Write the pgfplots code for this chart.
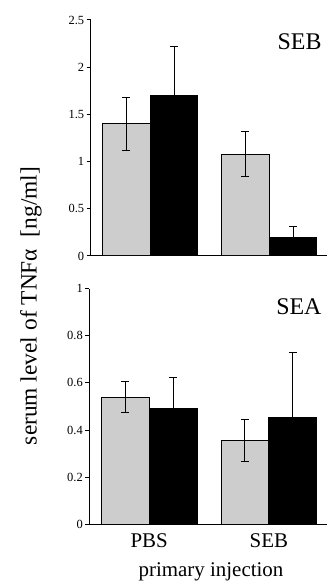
\documentclass[border=0pt]{standalone}
\usepackage{pgfplots}
\pgfplotsset{compat=1.18}
\usetikzlibrary{patterns.meta}
\usepackage{fontspec}
\setmainfont{Liberation Serif}
\tikzdeclarepattern{
  name=stip,
  type=uncolored,
  bottom left={(0,0)}, top right={(2.4bp,2.4bp)},
  tile size={(2.4bp,2.4bp)},
  code={\pgfpathcircle{\pgfpoint{1.2bp}{1.2bp}}{0.72bp}\pgfusepath{fill}}
}
\begin{document}
\begin{tikzpicture}[x=1bp,y=1bp]
\pgfplotsset{
  panel/.style={
    scale only axis, anchor=south west,
    axis x line=bottom, axis y line=left,
    axis line style={-, line width=1bp, black},
    xmin=-0.5, xmax=1.485, ymin=0,
    ybar, bar width=0.4,
    tick align=outside, major tick length=4bp,
    ytick style={line width=1bp, black},
    xtick style={draw=none},
    yticklabel style={font=\fontsize{12.5}{13}\selectfont, xshift=1bp},
    /pgf/number format/assume math mode=true,
    /pgf/number format/fixed,
    /pgf/number format/precision=1,
  },
  dotbar/.style={bar shift=-0.2, pattern=stip, pattern color=black!85, draw=black, line width=0.9bp,
    error bars/.cd, y dir=both, y explicit,
    error bar style={line width=1bp, black},
    error mark options={black, rotate=90, mark size=4bp, line width=1bp}},
  blkbar/.style={bar shift=0.2, fill=black, draw=black, line width=0.9bp,
    error bars/.cd, y dir=plus, y explicit,
    error bar style={line width=1bp, black},
    error mark options={black, rotate=90, mark size=4bp, line width=1bp}},
}
% top panel: SEB
\begin{axis}[panel, at={(90.7bp,327bp)}, width=236.3bp, height=236bp,
  ymax=2.5, ytick={0,0.5,1,1.5,2,2.5}, xtick=\empty]
\addplot[dotbar] coordinates {(0,1.40) +- (0,0.28) (1,1.08) +- (0,0.24)};
\addplot[blkbar] coordinates {(0,1.70) +- (0,0.52) (1,0.20) +- (0,0.11)};
\end{axis}
% bottom panel: SEA
\begin{axis}[panel, at={(89.3bp,58.7bp)}, width=237.7bp, height=235.6bp,
  ymax=1, ytick={0,0.2,0.4,0.6,0.8,1}, xtick={0,1}, xticklabels={PBS,SEB},
  xticklabel style={font=\fontsize{21}{24}\selectfont, yshift=-2bp}]
\addplot[dotbar] coordinates {(0,0.54) +- (0,0.067) (1,0.355) +- (0,0.09)};
\addplot[blkbar] coordinates {(0,0.49) +- (0,0.135) (1,0.455) +- (0,0.275)};
\end{axis}
\node[anchor=base east, font=\fontsize{24}{28}\selectfont] at (325,533) {SEB};
\node[anchor=base east, font=\fontsize{24}{28}\selectfont] at (325,268) {SEA};
\node[rotate=90, font=\fontsize{23.5}{26}\selectfont] at (31,277) {serum level of TNFα\ \ [ng/ml]};
\node[anchor=base, font=\fontsize{21}{24}\selectfont] at (211,6) {primary injection};
\pgfresetboundingbox
\path[use as bounding box] (0,0) rectangle (327,583);
\end{tikzpicture}
\end{document}
